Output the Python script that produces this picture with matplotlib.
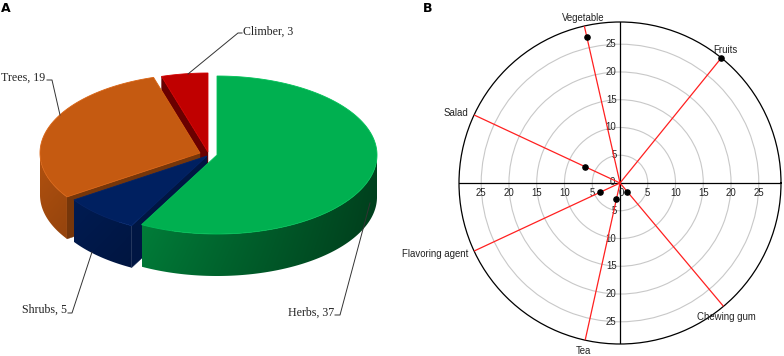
import numpy as np
import matplotlib.pyplot as plt
from matplotlib.patches import Polygon
from matplotlib.colors import to_rgb

# panel A: growth habit of the species
habits = ['Herbs', 'Shrubs', 'Trees', 'Climber']
counts = [37, 5, 19, 3]
habit_colors = ['#00b050', '#002060', '#c55a11', '#c00000']

# panel B: uses (direction in degrees, value)
uses = ['Vegetable', 'Fruits', 'Salad', 'Flavoring agent', 'Tea', 'Chewing gum']
use_angles = [102.8, 51, 155, 205, 257.5, 310]
use_values = [27, 29, 7, 4, 3, 2]
rings = [5, 10, 15, 20, 25]

fig = plt.figure(figsize=(7.84, 3.56), dpi=100)

# ---------------- A: 3D exploded pie, drawn in pixel coords ----------------
ax = fig.add_axes([0, 0, 400 / 784, 1])
ax.set_xlim(0, 400)
ax.set_ylim(356, 0)
ax.axis('off')

A, B, H = 160, 79, 42
centers = {'Herbs': (217, 155), 'Shrubs': (207, 156), 'Trees': (200, 153), 'Climber': (208, 152)}
cut_shade = {'Herbs': 0.45, 'Shrubs': 0.7, 'Trees': 0.6, 'Climber': 0.55}


def rim(cx, cy, t):
    t = np.radians(t)
    return cx + A * np.cos(t), cy - B * np.sin(t)


def shade(c, f):
    return tuple(min(1, v * f) for v in to_rgb(c))


total = sum(counts)
start = 90.0
wedges = []
for name, v, col in zip(habits, counts, habit_colors):
    span = v / total * 360
    wedges.append((name, start - span, start, col))
    start -= span

z = 1
for name, t1, t2, col in reversed(wedges):
    cx, cy = centers[name]
    # cut faces
    for t, vis in ((t1, np.cos(np.radians(t1)) > 0), (t2, np.cos(np.radians(t2)) < 0)):
        if vis:
            rx, ry = rim(cx, cy, t)
            pts = [(cx, cy), (rx, ry), (rx, ry + H), (cx, cy + H)]
            fc = shade(col, cut_shade[name])
            ax.add_patch(Polygon(pts, closed=True, fc=fc, ec=fc, lw=0.3, zorder=z))
    z += 1
    # outer side wall: one polygon filled with a horizontal gradient
    th = np.linspace(t1, t2, int(abs(t2 - t1)) * 2 + 2)
    front = th[np.sin(np.radians(th)) <= 0]
    if len(front) > 1:
        xs, ys = rim(cx, cy, front)
        pts = list(zip(xs, ys)) + list(zip(xs[::-1], ys[::-1] + H))
        wall = Polygon(pts, closed=True, fc='none', ec='none', zorder=z)
        ax.add_patch(wall)
        gx = np.linspace(xs.min(), xs.max(), 200)
        f = 0.9 - 0.52 * (gx - (cx - A)) / (2 * A)
        gy = np.linspace(0, 1, 40)
        fv = f[None, :] * (1.0 - 0.12 * gy[:, None])
        img = np.clip(np.array(to_rgb(col))[None, None, :] * fv[:, :, None], 0, 1)
        im = ax.imshow(img, extent=(xs.min(), xs.max(), ys.max() + H, ys.min()),
                       aspect='auto', interpolation='bilinear', zorder=z)
        im.set_clip_path(wall)
    z += 1
    # top face
    xs, ys = rim(cx, cy, th)
    pts = [(cx, cy)] + list(zip(xs, ys))
    ax.add_patch(Polygon(pts, closed=True, fc=col, ec=shade(col, 1.1), lw=0.6, zorder=z))
    z += 1

ax.set_xlim(0, 400)
ax.set_ylim(356, 0)

serif = dict(family='Liberation Serif', fontsize=8.6, color='#222222')
lk = dict(color='#333333', lw=0.7, zorder=20)
ax.plot([188, 238, 242], [74, 33, 33], **lk)
ax.text(243, 32, 'Climber, 3', ha='left', va='center', **serif)
ax.plot([47, 52, 60], [80, 80, 115], **lk)
ax.text(45, 78, 'Trees, 19', ha='right', va='center', **serif)
ax.plot([68, 72, 92], [313, 313, 252], **lk)
ax.text(67, 310, 'Shrubs, 5', ha='right', va='center', **serif)
ax.plot([335, 340, 370], [315, 315, 203], **lk)
ax.text(334, 313, 'Herbs, 37', ha='right', va='center', **serif)

fig.text(1 / 784, 1 - 2 / 356, 'A', ha='left', va='top', fontsize=9, fontweight='bold')
fig.text(423 / 784, 1 - 2 / 356, 'B', ha='left', va='top', fontsize=9, fontweight='bold')

# ---------------- B: polar plot ----------------
rmax = 29
axp = fig.add_axes([459 / 784, 12 / 356, 322 / 784, 322 / 356], projection='polar')
axp.set_ylim(0, rmax)
axp.set_yticks(rings)
axp.set_yticklabels([])
axp.set_xticks([])
axp.yaxis.grid(True, color='#c8c8c8', lw=0.8)
axp.spines['polar'].set_color('black')
axp.spines['polar'].set_linewidth(0.9)

for t in [0, np.pi / 2, np.pi, 3 * np.pi / 2]:
    axp.plot([t, t], [0, rmax], color='black', lw=0.9, zorder=3)

for name, ang in zip(uses, use_angles):
    t = np.radians(ang)
    axp.plot([t, t], [0, rmax], color='#ff2020', lw=0.9, zorder=4)
axp.scatter(np.radians(use_angles), use_values, s=14, color='black', zorder=5, clip_on=False)

sans = dict(family='Liberation Sans', fontsize=6.9, color='#222222')
for r in rings:
    for t in (np.pi / 2, 3 * np.pi / 2):
        axp.annotate(str(r), xy=(t, r), xytext=(-2.5, 0), textcoords='offset points',
                     ha='right', va='center', **sans)
    for t in (0, np.pi):
        axp.annotate(str(r), xy=(t, r), xytext=(0, -3.5), textcoords='offset points',
                     ha='center', va='top', **sans)
axp.annotate('0', xy=(0, 0), xytext=(-3.5, 0.5), textcoords='offset points', ha='right', va='center', **sans)
axp.annotate('0', xy=(0, 0), xytext=(1, -3.5), textcoords='offset points', ha='center', va='top', **sans)

label_pos = {
    'Vegetable': ((-1, 2), 'center', 'bottom'),
    'Fruits': ((3, 2), 'center', 'bottom'),
    'Salad': ((-4, 1.5), 'right', 'center'),
    'Flavoring agent': ((-4, -2), 'right', 'center'),
    'Tea': ((-1, -4), 'center', 'top'),
    'Chewing gum': ((2, -4), 'center', 'top'),
}
for name, ang in zip(uses, use_angles):
    off, ha, va = label_pos[name]
    axp.annotate(name, xy=(np.radians(ang), rmax), xytext=off, textcoords='offset points',
                 ha=ha, va=va, annotation_clip=False, **sans)

fig.savefig('out.png', dpi=100)
